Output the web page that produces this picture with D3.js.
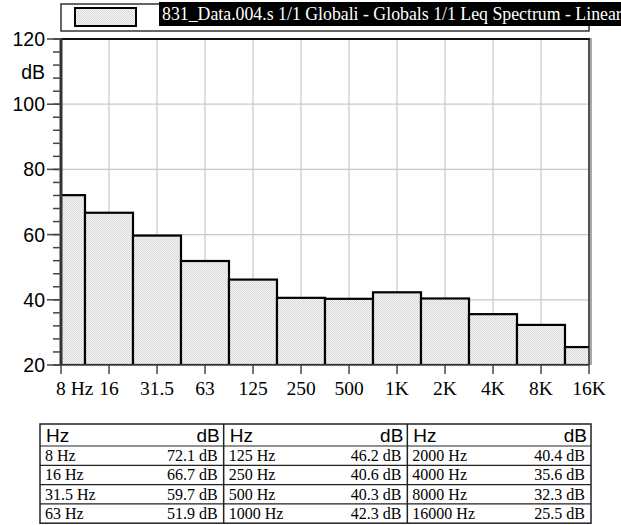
<!DOCTYPE html>
<html><head><meta charset="utf-8">
<script src="https://cdn.jsdelivr.net/npm/d3@7"></script>
<style>
html,body{margin:0;padding:0;background:#fff;}
svg{display:block;}
</style></head>
<body>
<svg id="chart" width="621" height="525"></svg>
<script>
const categories = ["8 Hz","16","31.5","63","125","250","500","1K","2K","4K","8K","16K"];
const bandLabels = ["8 Hz","16 Hz","31.5 Hz","63 Hz","125 Hz","250 Hz","500 Hz","1000 Hz","2000 Hz","4000 Hz","8000 Hz","16000 Hz"];
const levels = [72.1,66.7,59.7,51.9,46.2,40.6,40.3,42.3,40.4,35.6,32.3,25.5];
const yTicks = [20,40,60,80,100,120];
const legendText = "831_Data.004.s 1/1 Globali - Globals 1/1 Leq Spectrum - Lineare";
const unitLabel = "dB";

const svg = d3.select("#chart");
const L = 61, R = 589, T = 39, B = 365;
const x = d3.scalePoint().domain(d3.range(categories.length)).range([L, R]);
const y = d3.scaleLinear().domain([20,120]).range([B, T]);
const step = x.step();

const defs = svg.append("defs");
const pat = defs.append("pattern").attr("id","stip").attr("width",2).attr("height",2).attr("patternUnits","userSpaceOnUse");
pat.append("rect").attr("width",2).attr("height",2).attr("fill","#f6f6f6");
pat.append("rect").attr("width",1).attr("height",1).attr("fill","#d8d8d8");
pat.append("rect").attr("x",1).attr("y",1).attr("width",1).attr("height",1).attr("fill","#d8d8d8");
defs.append("clipPath").attr("id","plotclip").append("rect").attr("x",L).attr("y",T).attr("width",R-L).attr("height",B-T);

// grid
const grid = svg.append("g");
grid.selectAll("line.v").data(d3.range(categories.length)).join("line")
  .attr("x1",d=>x(d)).attr("x2",d=>x(d)).attr("y1",T).attr("y2",B)
  .attr("stroke","#c8c8c8").attr("stroke-width",1.2);
grid.selectAll("line.h").data(yTicks).join("line")
  .attr("x1",L).attr("x2",R).attr("y1",d=>y(d)).attr("y2",d=>y(d))
  .attr("stroke","#c8c8c8").attr("stroke-width",1.2);

// bars
const bars = svg.append("g").attr("clip-path","url(#plotclip)");
bars.selectAll("rect").data(levels).join("rect")
  .attr("x",(d,i)=>x(i)-step/2).attr("width",step)
  .attr("y",d=>y(d)).attr("height",d=>y(20)-y(d))
  .attr("fill","url(#stip)").attr("stroke","#000").attr("stroke-width",2.2);

// frame
svg.append("line").attr("x1",L).attr("x2",R+1).attr("y1",T).attr("y2",T).attr("stroke","#111").attr("stroke-width",2);
svg.append("line").attr("x1",R).attr("x2",R).attr("y1",T).attr("y2",B).attr("stroke","#222").attr("stroke-width",1.5);
svg.append("line").attr("x1",R+2).attr("x2",R+2).attr("y1",T-1).attr("y2",B).attr("stroke","#555").attr("stroke-width",1);
svg.append("line").attr("x1",L).attr("x2",L).attr("y1",T-1).attr("y2",B+1).attr("stroke","#333").attr("stroke-width",3);
svg.append("line").attr("x1",L).attr("x2",R).attr("y1",B).attr("y2",B).attr("stroke","#444").attr("stroke-width",1.5);

// y axis ticks
const minor = d3.range(20,121,4);
svg.append("g").selectAll("line").data(minor).join("line")
  .attr("x1",L-8).attr("x2",L).attr("y1",d=>y(d)).attr("y2",d=>y(d))
  .attr("stroke","#444").attr("stroke-width",1.5);
svg.append("g").selectAll("line").data(yTicks).join("line")
  .attr("x1",L-14).attr("x2",L).attr("y1",d=>y(d)).attr("y2",d=>y(d))
  .attr("stroke","#444").attr("stroke-width",1.5);
svg.append("g").selectAll("text").data(yTicks).join("text")
  .attr("x",L-16).attr("y",d=>y(d)).attr("dy","0.36em").attr("text-anchor","end")
  .attr("font-family","Liberation Sans, Arial, sans-serif").attr("font-size",19.5).attr("fill","#000")
  .text(d=>d);
svg.append("text").attr("x",L-16).attr("y",y(110)).attr("dy","0.36em").attr("text-anchor","end")
  .attr("font-family","Liberation Sans, Arial, sans-serif").attr("font-size",19.5).text(unitLabel);

// x axis ticks
svg.append("g").selectAll("line").data(d3.range(categories.length)).join("line")
  .attr("x1",d=>x(d)).attr("x2",d=>x(d)).attr("y1",B).attr("y2",B+9)
  .attr("stroke","#444").attr("stroke-width",1.5);
svg.append("g").selectAll("text").data(categories).join("text")
  .attr("x",(d,i)=> i===0 ? x(i)-5 : x(i)).attr("y",B+30)
  .attr("text-anchor",(d,i)=> i===0 ? "start" : "middle")
  .attr("font-family","Liberation Serif, Times New Roman, serif").attr("font-size",19.5).attr("fill","#000")
  .text(d=>d);

// legend
const lg = svg.append("g");
lg.append("rect").attr("x",L).attr("y",4).attr("width",R-L).attr("height",27).attr("fill","#fff").attr("stroke","#333").attr("stroke-width",1.5);
lg.append("rect").attr("x",75).attr("y",8).attr("width",61).attr("height",18).attr("fill","url(#stip)").attr("stroke","#000").attr("stroke-width",2);
lg.append("rect").attr("x",159).attr("y",2).attr("width",470).attr("height",24).attr("fill","#000");
lg.append("text").attr("x",162).attr("y",20).attr("fill","#fff")
  .attr("font-family","Liberation Serif, Times New Roman, serif").attr("font-size",17.8).text(legendText);

// table
const tb = svg.append("g");
const tL = 40, tR = 591, tT = 424, hH = 22, rH = 19.3;
const nCols = 3, nRows = 4;
const colW = (tR - tL) / nCols;
tb.append("rect").attr("x",tL).attr("y",tT).attr("width",tR-tL).attr("height",hH+nRows*rH).attr("fill","none").attr("stroke","#222").attr("stroke-width",1.5);
for (let c=1;c<nCols;c++) tb.append("line").attr("x1",tL+c*colW).attr("x2",tL+c*colW).attr("y1",tT).attr("y2",tT+hH+nRows*rH).attr("stroke","#222").attr("stroke-width",1.5);
for (let r=0;r<nRows;r++) tb.append("line").attr("x1",tL).attr("x2",tR).attr("y1",tT+hH+r*rH).attr("y2",tT+hH+r*rH).attr("stroke","#222").attr("stroke-width",1.2);
for (let c=0;c<nCols;c++){
  tb.append("text").attr("x",tL+c*colW+6).attr("y",tT+18).attr("font-family","Liberation Sans, Arial, sans-serif").attr("font-size",19).text("Hz");
  tb.append("text").attr("x",tL+(c+1)*colW-4).attr("y",tT+18).attr("text-anchor","end").attr("font-family","Liberation Sans, Arial, sans-serif").attr("font-size",19).text("dB");
}
bandLabels.forEach((b,i)=>{
  const c = Math.floor(i/nRows), r = i % nRows;
  const yy = tT + hH + r*rH + 15;
  tb.append("text").attr("x",tL+c*colW+5).attr("y",yy).attr("font-family","Liberation Serif, Times New Roman, serif").attr("font-size",16).text(b);
  tb.append("text").attr("x",tL+(c+1)*colW-6).attr("y",yy).attr("text-anchor","end").attr("font-family","Liberation Serif, Times New Roman, serif").attr("font-size",16).text(levels[i].toFixed(1)+" dB");
});
</script>
</body></html>
